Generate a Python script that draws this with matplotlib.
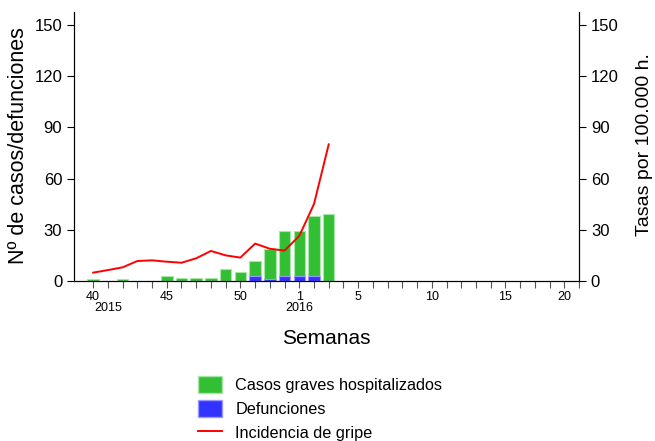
import matplotlib
matplotlib.use("Agg")
import matplotlib.pyplot as plt
from matplotlib.patches import Patch
from matplotlib.lines import Line2D
import numpy as np

plt.rcParams["font.family"] = ["Liberation Sans", "DejaVu Sans"]

# ─── Daten ───────────────────────────────────────────────────────────────────
semanas = [40, 41, 42, 43, 44, 45, 46, 47, 48, 49, 50, 51, 52, 53,
           1, 2, 3, 4, 5, 6, 7, 8, 9, 10, 11, 12, 13, 14, 15, 16, 17, 18, 19, 20]
casos_graves = [1, 0, 1, 0, 0, 3, 2, 2, 2, 7, 5, 12, 19, 29, 29, 38, 39]
defunciones = [0, 0, 0, 0, 0, 0, 0, 0, 0, 0, 0, 3, 1, 3, 3, 3, 0]
incidencia = [4.9, 6.4, 8.0, 11.7, 12.1, 11.3, 10.7, 13.3, 17.6, 15.0, 13.7,
              21.9, 18.9, 17.8, 26.4, 45.1, 80.0]
# Beschriftung wie im Original ("20" sitzt einen Strich zu früh)
etiquetas_x = ["40", "", "", "", "", "45", "", "", "", "", "50", "", "", "",
               "1", "", "", "", "5", "", "", "", "", "10", "", "", "", "",
               "15", "", "", "", "20", ""]
y_ticks = [0, 30, 60, 90, 120, 150]

VERDE = "#33bf33"
AZUL = "#3333ff"
ROJO = "#ff0000"

pos = np.arange(len(semanas))
n = len(casos_graves)

fig = plt.figure(figsize=(6.55, 4.41), dpi=100)
ax = fig.add_axes([0.113, 0.3628, 0.771, 0.61])

ax.bar(pos[:n], casos_graves, width=0.78, color=VERDE, edgecolor="#a8e6a8", linewidth=0.8)
ax.bar(pos[:n], defunciones, width=0.78, color=AZUL, edgecolor="#9999ff", linewidth=0.8)

ax2 = ax.twinx()
ax2.plot(pos[:n], incidencia, color=ROJO, linewidth=1.4)

for a in (ax, ax2):
    a.set_ylim(0, 157.5)
    a.set_yticks(y_ticks)
    a.tick_params(axis="y", labelsize=12, length=5, width=0.8)
    a.spines["top"].set_visible(False)
ax.set_xlim(-1.3, 33)

# x-Achse: Striche an jeder Woche
ax.set_xticks(pos)
ax.set_xticklabels(etiquetas_x, fontsize=9)
ax.tick_params(axis="x", length=5, color="#555555", pad=2)
ax.text(pos[1], -12.5, "2015", ha="center", va="top", fontsize=9)
ax.text(pos[14], -12.5, "2016", ha="center", va="top", fontsize=9)

fig.text(0.5 * (283 + 369) / 655, 1 - 338 / 441, "Semanas", ha="center", va="center", fontsize=15)

fig.text(8 / 655, 1 - 146 / 441, "Nº de casos/defunciones", rotation=90,
         ha="left", va="center", fontsize=15.5)
fig.text(636 / 655, 1 - 145 / 441, "Tasas por 100.000 h.", rotation=90,
         ha="left", va="center", fontsize=14)

handles = [Patch(facecolor=VERDE, edgecolor="#a8e6a8"),
           Patch(facecolor=AZUL, edgecolor="#9999ff"),
           Line2D([0], [0], color=ROJO, linewidth=1.4)]
fig.legend(handles, ["Casos graves hospitalizados", "Defunciones", "Incidencia de gripe"],
           loc="upper left", bbox_to_anchor=(0.293, 0.163), frameon=False,
           fontsize=11.7, handlelength=1.48, handleheight=1.23, labelspacing=0.45,
           handletextpad=0.8, borderaxespad=0)

plt.savefig("out.png", dpi=100)
plt.close()
